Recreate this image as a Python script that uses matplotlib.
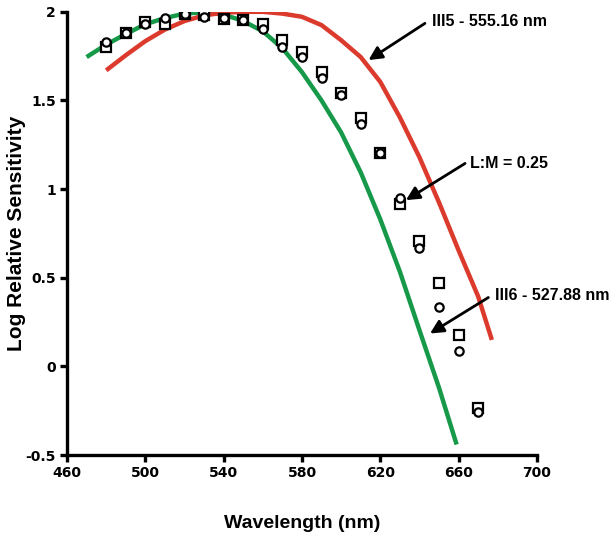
import matplotlib.pyplot as plt
import numpy as np

# template curves (log relative sensitivity)
greenWl = [470, 480, 490, 500, 510, 520, 530, 540, 550, 560, 570, 580, 590, 600, 610, 620, 630, 640, 650, 659]
greenVal = [1.745, 1.815, 1.875, 1.93, 1.965, 1.99, 1.998, 1.985, 1.948, 1.89, 1.795, 1.66, 1.50, 1.32, 1.095, 0.83, 0.535, 0.205, -0.12, -0.44]

redWl = [480, 490, 500, 510, 520, 530, 540, 550, 560, 570, 580, 590, 600, 610, 620, 630, 640, 650, 660, 670, 677]
redVal = [1.67, 1.755, 1.835, 1.90, 1.948, 1.98, 1.995, 2.0, 2.0, 1.99, 1.972, 1.925, 1.84, 1.745, 1.605, 1.405, 1.18, 0.925, 0.655, 0.395, 0.15]

# measured points
dataWl = [480, 490, 500, 510, 520, 530, 540, 550, 560, 570, 580, 590, 600, 610, 620, 630, 640, 650, 660, 670]
squares = [1.80, 1.88, 1.945, 1.93, 1.99, 1.98, 1.96, 1.955, 1.932, 1.84, 1.775, 1.66, 1.54, 1.40, 1.205, 0.915, 0.705, 0.47, 0.18, -0.235]
circles = [1.83, 1.88, 1.93, 1.963, 1.99, 1.97, 1.965, 1.955, 1.905, 1.80, 1.748, 1.625, 1.53, 1.37, 1.205, 0.95, 0.67, 0.336, 0.088, -0.256]

xTicks = [460, 500, 540, 580, 620, 660, 700]
yTicks = [-0.5, 0, 0.5, 1, 1.5, 2]
yTickLabels = ['-0.5', '0', '0.5', '1', '1.5', '2']

labelFont = 'Liberation Sans'

fig = plt.figure(figsize=(6.15, 5.38), dpi=100)
ax = fig.add_axes([0.109, 0.154, 0.764, 0.824])

ax.plot(greenWl, greenVal, color='#17994a', lw=3.2, solid_capstyle='butt', solid_joinstyle='round', zorder=2)
ax.plot(redWl, redVal, color='#db3a2c', lw=3.2, solid_capstyle='butt', solid_joinstyle='round', zorder=2)
ax.plot(dataWl, squares, 's', ms=6.5, mfc='white', mec='black', mew=1.6, zorder=3)
ax.plot(dataWl, circles, 'o', ms=6, mfc='white', mec='black', mew=1.6, zorder=4)

ax.set_xlim(460, 700)
ax.set_ylim(-0.5, 2)
ax.set_xticks(xTicks)
ax.set_yticks(yTicks)
ax.set_yticklabels(yTickLabels)

for side in ['top', 'right']:
    ax.spines[side].set_visible(False)
for side in ['left', 'bottom']:
    ax.spines[side].set_linewidth(2.4)
ax.tick_params(direction='out', length=5, width=2.4, labelsize=10, pad=3)
for lbl in ax.get_xticklabels() + ax.get_yticklabels():
    lbl.set_fontweight('bold')

ax.set_xlabel('Wavelength (nm)', fontsize=14, fontweight='bold', family=labelFont, labelpad=25)
ax.set_ylabel('Log Relative Sensitivity', fontsize=15, fontweight='bold', family=labelFont, labelpad=0)

arrow = dict(arrowstyle='-|>', color='black', lw=2, mutation_scale=20, shrinkA=0, shrinkB=0)
ax.annotate('', xy=(614, 1.728), xytext=(642.8, 1.935), arrowprops=arrow)
ax.text(646.3, 1.944, 'III5 - 555.16 nm', fontsize=11.5, fontweight='bold', family=labelFont, va='center')
ax.annotate('', xy=(633.1, 0.938), xytext=(663.3, 1.145), arrowprops=arrow)
ax.text(665.8, 1.145, 'L:M = 0.25', fontsize=11.5, fontweight='bold', family=labelFont, va='center')
ax.annotate('', xy=(645.4, 0.186), xytext=(675.2, 0.389), arrowprops=arrow)
ax.text(678.6, 0.402, 'III6 - 527.88 nm', fontsize=11.5, fontweight='bold', family=labelFont, va='center', clip_on=False)

fig.savefig('out.png', dpi=100)
